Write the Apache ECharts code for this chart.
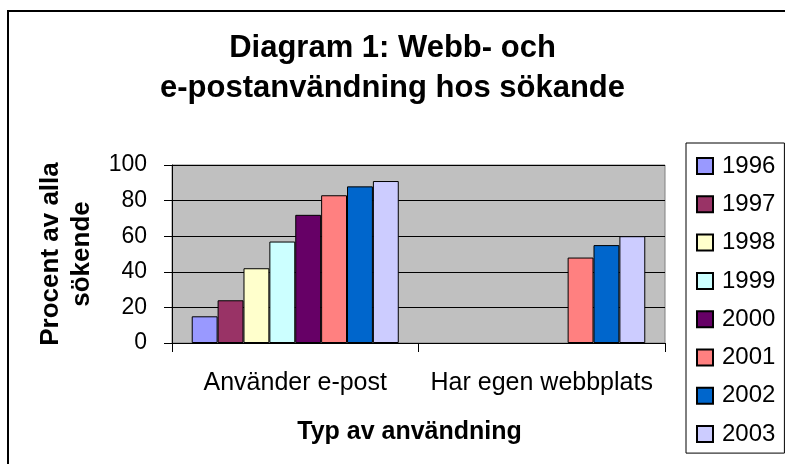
<!DOCTYPE html>
<html>
<head>
<meta charset="utf-8">
<script src="https://cdn.jsdelivr.net/npm/echarts@6/dist/echarts.min.js"></script>
<style>
  html, body { margin: 0; padding: 0; background: #fff; }
  #chart { width: 785px; height: 464px; }
</style>
</head>
<body>
<div id="chart"></div>
<script>
var categories = ['Använder e-post', 'Har egen webbplats'];
var years = ['1996', '1997', '1998', '1999', '2000', '2001', '2002', '2003'];
var colors = ['#9999FF', '#993366', '#FFFFCC', '#CCFFFF', '#660066', '#FF8080', '#0066CC', '#CCCCFF'];
// values per year: [e-post, webbplats]
var v1996 = [15, null];
var v1997 = [24, null];
var v1998 = [42, null];
var v1999 = [57, null];
var v2000 = [72, null];
var v2001 = [83, 48];
var v2002 = [88, 55];
var v2003 = [91, 60];
var values = [v1996, v1997, v1998, v1999, v2000, v2001, v2002, v2003];

var font = 'Liberation Sans, Arial, sans-serif';

var chart = echarts.init(document.getElementById('chart'));

var series = years.map(function (y, i) {
  return {
    name: y,
    type: 'bar',
    data: values[i],
    barGap: '0%',
    barCategoryGap: '16%',
    itemStyle: {color: colors[i], borderColor: '#000', borderWidth: 1}
  };
});

var option = {
  animation: false,
  backgroundColor: '#fff',
  textStyle: {fontFamily: font},
  title: {
    text: 'Diagram 1: Webb- och\ne-postanvändning hos sökande',
    left: 'center',
    top: 28,
    padding: [0, 0, 0, 13],
    textStyle: {fontFamily: font, fontSize: 31, fontWeight: 'bold', color: '#000', lineHeight: 40}
  },
  graphic: [{
    type: 'rect',
    shape: {x: 8, y: 11, width: 800, height: 480},
    style: {fill: 'none', stroke: '#000', lineWidth: 2},
    silent: true
  }],
  legend: {
    orient: 'vertical',
    left: 686,
    top: 143,
    icon: 'rect',
    itemWidth: 16,
    itemHeight: 16,
    itemGap: 14.3,
    padding: [11, 9, 7, 10],
    borderColor: '#000',
    borderWidth: 1,
    backgroundColor: '#fff',
    textStyle: {fontFamily: font, fontSize: 24, lineHeight: 24, color: '#000', padding: [0, 0, 0, 4]},
    data: years
  },
  grid: {
    left: 172,
    right: 120,
    top: 165,
    bottom: 121,
    show: true,
    backgroundColor: '#C0C0C0',
    borderColor: '#808080',
    borderWidth: 1
  },
  xAxis: {
    type: 'category',
    data: categories,
    name: 'Typ av användning',
    nameLocation: 'middle',
    nameGap: 77,
    nameTextStyle: {fontFamily: font, fontSize: 25, fontWeight: 'bold', color: '#000', padding: [0, 18, 0, 0]},
    axisLine: {lineStyle: {color: '#000', width: 1}},
    axisTick: {show: true, interval: 0, length: 9, lineStyle: {color: '#000'}},
    axisLabel: {interval: 0, fontFamily: font, fontSize: 25, lineHeight: 25, color: '#000', margin: 28}
  },
  yAxis: {
    type: 'value',
    min: 0,
    max: 100,
    interval: 20,
    name: 'Procent av alla\nsökende',
    nameLocation: 'middle',
    nameGap: 72,
    nameRotate: 90,
    nameTextStyle: {fontFamily: font, fontSize: 26, fontWeight: 'bold', color: '#000', lineHeight: 31},
    axisLine: {show: true, lineStyle: {color: '#000', width: 1}},
    axisTick: {show: true, length: 8, lineStyle: {color: '#000'}},
    axisLabel: {fontFamily: font, fontSize: 23, color: '#000', margin: 25},
    splitLine: {lineStyle: {color: '#000', width: 1}}
  },
  series: series
};

chart.setOption(option);
</script>
</body>
</html>
